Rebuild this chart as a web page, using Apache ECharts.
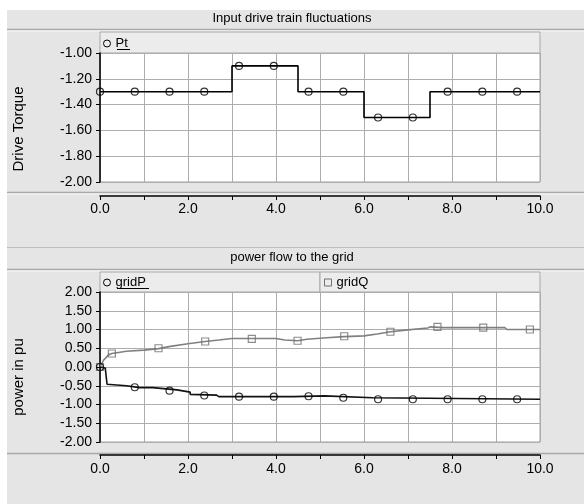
<!DOCTYPE html>
<html>
<head>
<meta charset="utf-8">
<script src="https://cdn.jsdelivr.net/npm/echarts@6/dist/echarts.min.js"></script>
<style>
html,body{margin:0;padding:0;background:#fff;}
#c{width:584px;height:504px;}
</style>
</head>
<body>
<div id="c"></div>
<script>
// ---- data ----
const topTitle = 'Input drive train fluctuations';
const bottomTitle = 'power flow to the grid';
const topYName = 'Drive Torque';
const bottomYName = 'power in pu';

// Pt: step changes (time, value held from that time)
const ptTime  = [0, 3, 4.5, 6, 7.5, 10];
const ptValue = [-1.3, -1.1, -1.3, -1.5, -1.3, -1.3];
const ptMarkTime  = [0, 0.79, 1.58, 2.37, 3.16, 3.95, 4.74, 5.53, 6.32, 7.11, 7.9, 8.69, 9.48];
const ptMarkValue = [-1.3, -1.3, -1.3, -1.3, -1.1, -1.1, -1.3, -1.3, -1.5, -1.5, -1.3, -1.3, -1.3];

// gridP
const gridPTime  = [0, 0.12, 0.16, 0.6, 0.9, 1.2, 1.2, 1.75, 1.75, 2.05, 2.05, 2.65, 2.7, 4.4, 4.4, 5.1, 5.1, 6.2, 6.2, 10];
const gridPValue = [0, -0.03, -0.46, -0.5, -0.55, -0.55, -0.6, -0.61, -0.65, -0.67, -0.73, -0.75, -0.79, -0.79, -0.77, -0.77, -0.82, -0.82, -0.86, -0.86];
const gridPMarkTime  = [0, 0.79, 1.58, 2.37, 3.16, 3.95, 4.74, 5.53, 6.32, 7.11, 7.9, 8.69, 9.48];
const gridPMarkValue = [0, -0.54, -0.63, -0.76, -0.79, -0.79, -0.78, -0.82, -0.86, -0.86, -0.86, -0.86, -0.86];

// gridQ
const gridQTime  = [0, 0.08, 0.2, 0.27, 0.6, 1.0, 1.33, 1.6, 2.0, 2.39, 2.7, 3.0, 4.0, 4.2, 4.49, 4.7, 5.15, 5.55, 6.0, 6.3, 6.6, 7.0, 7.45, 7.5, 7.8, 9.2, 9.25, 10];
const gridQValue = [0, 0.18, 0.33, 0.36, 0.42, 0.45, 0.49, 0.55, 0.62, 0.68, 0.72, 0.76, 0.76, 0.72, 0.70, 0.74, 0.78, 0.81, 0.83, 0.88, 0.94, 0.99, 1.04, 1.07, 1.05, 1.05, 1.0, 1.0];
const gridQMarkTime  = [0, 0.27, 1.33, 2.39, 3.45, 4.49, 5.55, 6.6, 7.67, 8.71, 9.77];
const gridQMarkValue = [0, 0.36, 0.5, 0.68, 0.75, 0.70, 0.82, 0.94, 1.07, 1.05, 1.0];

// axis ranges / ticks
const xRange = [0, 10], xInterval = 1;
const topYRange = [-2, -1], topYInterval = 0.2;
const bottomYRange = [-2, 2], bottomYInterval = 0.5;

const zip = (a, b) => a.map((v, i) => [v, b[i]]);

const FONT = '"Liberation Sans", Arial, sans-serif';
const BG = '#e5e5e5';

function xAxisCfg(gridIndex, offset, margin) {
  return {
    type: 'value', gridIndex, min: xRange[0], max: xRange[1], interval: xInterval,
    position: 'bottom', offset,
    axisLine: { show: true, onZero: false, lineStyle: { color: '#000', width: 1.5 } },
    axisTick: { show: true, length: 4, lineStyle: { color: '#000' } },
    axisLabel: { margin, fontFamily: FONT, fontSize: 14, color: '#000',
      formatter: v => (Math.round(v) % 2 === 0 ? v.toFixed(1) : '') },
    splitLine: { show: true, lineStyle: { color: '#adadad', width: 1 } }
  };
}
function yAxisCfg(gridIndex, range, interval) {
  return {
    type: 'value', gridIndex, min: range[0], max: range[1], interval,
    axisLine: { show: true, onZero: false, lineStyle: { color: '#000', width: 1.5 } },
    axisTick: { show: true, length: 4, lineStyle: { color: '#000' } },
    axisLabel: { margin: 8, fontFamily: FONT, fontSize: 14, color: '#000',
      formatter: v => v.toFixed(2) },
    splitLine: { show: true, lineStyle: { color: '#adadad', width: 1 } }
  };
}

const chart = echarts.init(document.getElementById('c'), null, { renderer: 'canvas' });
chart.setOption({
  backgroundColor: BG,
  animation: false,
  title: [
    { text: topTitle, left: 292, top: 12, textAlign: 'center', padding: 0,
      textStyle: { fontFamily: FONT, fontSize: 13, fontWeight: 'normal', color: '#000' } },
    { text: bottomTitle, left: 292, top: 251, textAlign: 'center', padding: 0,
      textStyle: { fontFamily: FONT, fontSize: 13, fontWeight: 'normal', color: '#000' } }
  ],
  grid: [
    { left: 100, top: 53, width: 440, height: 129, show: true, backgroundColor: '#fff', borderColor: '#a0a0a0', borderWidth: 1 },
    { left: 100, top: 292, width: 440, height: 150, show: true, backgroundColor: '#fff', borderColor: '#a0a0a0', borderWidth: 1 }
  ],
  xAxis: [xAxisCfg(0, 14, 6), xAxisCfg(1, 13, 7)],
  yAxis: [yAxisCfg(0, topYRange, topYInterval), yAxisCfg(1, bottomYRange, bottomYInterval)],
  legend: [
    { left: 103, top: 37, padding: 0, itemWidth: 7, itemHeight: 7, itemGap: 10, selectedMode: false,
      textStyle: { fontFamily: FONT, fontSize: 13, color: '#000' },
      data: [{ name: 'Pt', icon: 'circle', itemStyle: { color: 'transparent', borderColor: '#000', borderWidth: 1 } }] },
    { left: 103, top: 276, padding: 0, itemWidth: 7, itemHeight: 7, selectedMode: false,
      textStyle: { fontFamily: FONT, fontSize: 13, color: '#000' },
      data: [{ name: 'gridP', icon: 'circle', itemStyle: { color: 'transparent', borderColor: '#000', borderWidth: 1 } }] },
    { left: 324, top: 276, padding: 0, itemWidth: 7, itemHeight: 7, selectedMode: false,
      textStyle: { fontFamily: FONT, fontSize: 13, color: '#000' },
      data: [{ name: 'gridQ', icon: 'rect', itemStyle: { color: 'transparent', borderColor: '#707070', borderWidth: 1 } }] }
  ],
  series: [
    { name: 'Pt', type: 'line', xAxisIndex: 0, yAxisIndex: 0, step: 'end', showSymbol: false,
      data: zip(ptTime, ptValue), lineStyle: { color: '#000', width: 1.6 }, itemStyle: { color: '#000' }, z: 3 },
    { name: 'Pt', type: 'scatter', xAxisIndex: 0, yAxisIndex: 0, symbol: 'circle', symbolSize: 7,
      data: zip(ptMarkTime, ptMarkValue), itemStyle: { color: 'transparent', borderColor: '#000', borderWidth: 1.2 }, z: 4 },

    { name: 'gridQ', type: 'line', xAxisIndex: 1, yAxisIndex: 1, showSymbol: false,
      data: zip(gridQTime, gridQValue), lineStyle: { color: '#808080', width: 1.6 }, itemStyle: { color: '#808080' }, z: 3 },
    { name: 'gridQ', type: 'scatter', xAxisIndex: 1, yAxisIndex: 1, symbol: 'rect', symbolSize: 7,
      data: zip(gridQMarkTime, gridQMarkValue), itemStyle: { color: 'transparent', borderColor: '#707070', borderWidth: 1.2 }, z: 4 },

    { name: 'gridP', type: 'line', xAxisIndex: 1, yAxisIndex: 1, showSymbol: false,
      data: zip(gridPTime, gridPValue), lineStyle: { color: '#111', width: 1.6 }, itemStyle: { color: '#111' }, z: 3 },
    { name: 'gridP', type: 'scatter', xAxisIndex: 1, yAxisIndex: 1, symbol: 'circle', symbolSize: 7,
      data: zip(gridPMarkTime, gridPMarkValue), itemStyle: { color: 'transparent', borderColor: '#000', borderWidth: 1.2 }, z: 4 }
  ],
  graphic: [
    // white page margins
    { type: 'rect', shape: { x: 0, y: 0, width: 584, height: 10 }, style: { fill: '#fff' }, silent: true },
    { type: 'rect', shape: { x: 0, y: 0, width: 7, height: 504 }, style: { fill: '#fff' }, silent: true },
    // top panel separators
    { type: 'line', shape: { x1: 7, y1: 29.5, x2: 584, y2: 29.5 }, style: { stroke: '#a9a9a9', lineWidth: 1.5 }, silent: true },
    { type: 'line', shape: { x1: 7, y1: 31, x2: 584, y2: 31 }, style: { stroke: '#fafafa', lineWidth: 1 }, silent: true },
    { type: 'rect', shape: { x: 100, y: 32, width: 440, height: 21 }, style: { fill: '#ececec', stroke: '#a8a8a8', lineWidth: 1 }, silent: true },
    { type: 'line', shape: { x1: 7, y1: 192.5, x2: 584, y2: 192.5 }, style: { stroke: '#a9a9a9', lineWidth: 1.5 }, silent: true },
    { type: 'line', shape: { x1: 7, y1: 194, x2: 584, y2: 194 }, style: { stroke: '#fafafa', lineWidth: 1 }, silent: true },
    // bottom panel separators
    { type: 'line', shape: { x1: 7, y1: 247.5, x2: 584, y2: 247.5 }, style: { stroke: '#bdbdbd', lineWidth: 1 }, silent: true },
    { type: 'line', shape: { x1: 7, y1: 269.5, x2: 584, y2: 269.5 }, style: { stroke: '#a9a9a9', lineWidth: 1.5 }, silent: true },
    { type: 'line', shape: { x1: 7, y1: 271, x2: 584, y2: 271 }, style: { stroke: '#fafafa', lineWidth: 1 }, silent: true },
    { type: 'rect', shape: { x: 100, y: 272, width: 220, height: 20 }, style: { fill: '#ececec', stroke: '#a8a8a8', lineWidth: 1 }, silent: true },
    { type: 'rect', shape: { x: 320, y: 272, width: 220, height: 20 }, style: { fill: '#ececec', stroke: '#a8a8a8', lineWidth: 1 }, silent: true },
    { type: 'line', shape: { x1: 7, y1: 453.5, x2: 584, y2: 453.5 }, style: { stroke: '#a9a9a9', lineWidth: 1.5 }, silent: true },
    // legend underlines
    { type: 'line', shape: { x1: 117, y1: 49.5, x2: 130, y2: 49.5 }, style: { stroke: '#000', lineWidth: 1 }, z: 10, silent: true },
    { type: 'line', shape: { x1: 117, y1: 288.5, x2: 149, y2: 288.5 }, style: { stroke: '#000', lineWidth: 1 }, z: 10, silent: true },
    // y axis names
    { type: 'text', x: 19, y: 129, rotation: Math.PI / 2,
      style: { text: topYName, fill: '#000', font: '15px ' + FONT, textAlign: 'center', textVerticalAlign: 'middle' }, silent: true },
    { type: 'text', x: 19, y: 377, rotation: Math.PI / 2,
      style: { text: bottomYName, fill: '#000', font: '15px ' + FONT, textAlign: 'center', textVerticalAlign: 'middle' }, silent: true }
  ]
});
</script>
</body>
</html>
